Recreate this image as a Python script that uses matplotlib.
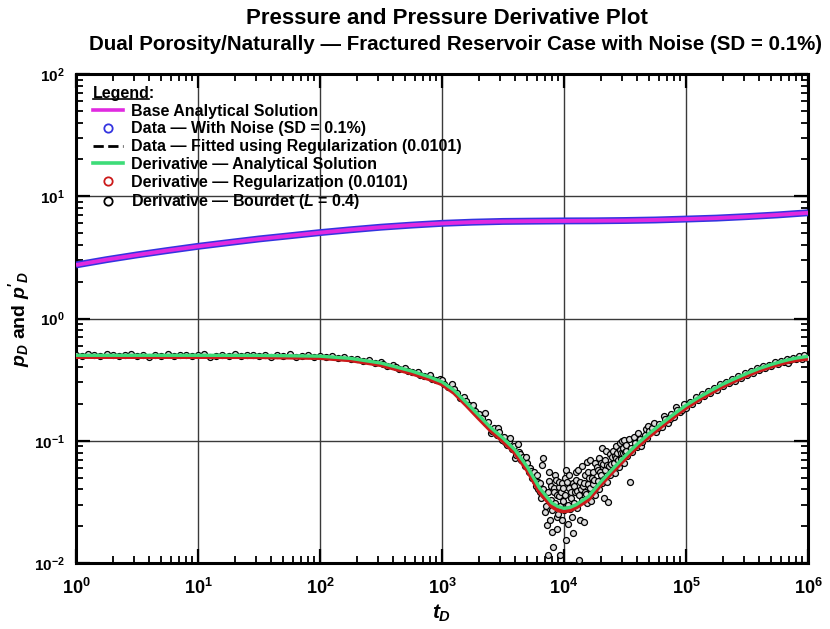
import numpy as np
import matplotlib
matplotlib.use("Agg")
import matplotlib.pyplot as plt
from matplotlib.lines import Line2D
from matplotlib.ticker import LogLocator, NullFormatter, FixedLocator, LogFormatterSciNotation

# ---------------- data ----------------
p_logt = [0.00, 0.25, 0.50, 0.75, 1.00, 1.25, 1.50, 1.75, 2.00, 2.25, 2.50, 2.75,
          3.00, 3.25, 3.50, 3.75, 4.00, 4.25, 4.50, 4.75, 5.00, 5.25, 5.50, 5.75, 6.00]
p_analytic = [2.74, 3.03, 3.31, 3.60, 3.89, 4.18, 4.47, 4.75, 5.04, 5.32, 5.58, 5.81,
              6.00, 6.14, 6.22, 6.26, 6.28, 6.30, 6.33, 6.40, 6.50, 6.63, 6.81, 7.04, 7.32]
p_noisy = [2.742, 3.028, 3.313, 3.597, 3.893, 4.176, 4.474, 4.748, 5.043, 5.317, 5.584, 5.806,
           6.004, 6.137, 6.224, 6.257, 6.284, 6.297, 6.334, 6.396, 6.506, 6.626, 6.815, 7.036, 7.325]
p_fit = [2.741, 3.030, 3.311, 3.599, 3.891, 4.179, 4.471, 4.749, 5.041, 5.319, 5.581, 5.808,
         6.002, 6.139, 6.221, 6.259, 6.281, 6.299, 6.331, 6.398, 6.502, 6.629, 6.812, 7.039, 7.322]

d_logt = [0.0, 0.5, 1.0, 1.5, 2.0, 2.25, 2.5, 2.75, 2.9, 3.0, 3.1, 3.2, 3.3, 3.4, 3.5, 3.6,
          3.7, 3.8, 3.9, 3.95, 4.0, 4.05, 4.1, 4.2, 4.3, 4.4, 4.5, 4.6, 4.7, 4.8, 4.9, 5.0,
          5.1, 5.2, 5.3, 5.4, 5.5, 5.6, 5.7, 5.8, 5.9, 6.0]
d_analytic = [0.500, 0.500, 0.500, 0.499, 0.492, 0.472, 0.432, 0.372, 0.332, 0.303, 0.258,
              0.205, 0.162, 0.128, 0.105, 0.084, 0.061, 0.041, 0.031, 0.029, 0.028, 0.0285,
              0.030, 0.035, 0.046, 0.059, 0.075, 0.094, 0.115, 0.138, 0.165, 0.195, 0.225,
              0.256, 0.290, 0.322, 0.356, 0.390, 0.421, 0.450, 0.474, 0.490]
d_regularized = [0.485, 0.485, 0.485, 0.484, 0.476, 0.456, 0.416, 0.356, 0.318, 0.290, 0.246,
                 0.195, 0.153, 0.121, 0.099, 0.079, 0.057, 0.038, 0.029, 0.027, 0.0265, 0.027,
                 0.0285, 0.033, 0.0435, 0.056, 0.071, 0.089, 0.109, 0.131, 0.157, 0.186, 0.215,
                 0.245, 0.278, 0.309, 0.342, 0.375, 0.405, 0.433, 0.456, 0.470]

bourdet_flat = [(0.00, 0.505), (0.05, 0.496), (0.10, 0.512), (0.15, 0.499), (0.20, 0.493),
                (0.25, 0.508), (0.30, 0.501), (0.35, 0.489), (0.40, 0.506), (0.45, 0.511),
                (0.50, 0.494), (0.55, 0.502), (0.60, 0.488), (0.65, 0.507), (0.70, 0.497),
                (0.75, 0.513), (0.80, 0.491), (0.85, 0.500), (0.90, 0.506), (0.95, 0.492),
                (1.00, 0.503), (1.05, 0.509), (1.10, 0.487), (1.15, 0.498), (1.20, 0.505),
                (1.25, 0.494), (1.30, 0.510), (1.35, 0.490), (1.40, 0.501), (1.45, 0.507),
                (1.50, 0.493), (1.55, 0.499), (1.60, 0.488), (1.65, 0.504), (1.70, 0.495),
                (1.75, 0.509), (1.80, 0.486), (1.85, 0.497), (1.90, 0.502), (1.95, 0.484),
                (2.00, 0.493)]
bourdet_fall = [(2.05, 0.480), (2.10, 0.492), (2.15, 0.471), (2.20, 0.483), (2.25, 0.462),
                (2.30, 0.470), (2.35, 0.448), (2.40, 0.458), (2.45, 0.432), (2.50, 0.437),
                (2.52, 0.428), (2.55, 0.412), (2.60, 0.415), (2.62, 0.398), (2.65, 0.386),
                (2.70, 0.392), (2.72, 0.371), (2.75, 0.362), (2.80, 0.366), (2.82, 0.347),
                (2.85, 0.336), (2.90, 0.342), (2.92, 0.321), (2.95, 0.313), (2.98, 0.320),
                (3.00, 0.312), (3.02, 0.292), (3.05, 0.276), (3.08, 0.290), (3.10, 0.266),
                (3.12, 0.244), (3.15, 0.225), (3.18, 0.230), (3.20, 0.212), (3.22, 0.197),
                (3.25, 0.181), (3.25, 0.195), (3.27, 0.175), (3.30, 0.164), (3.33, 0.153),
                (3.35, 0.170), (3.36, 0.139), (3.38, 0.143), (3.40, 0.115), (3.41, 0.121),
                (3.43, 0.128), (3.45, 0.112), (3.46, 0.126), (3.47, 0.118), (3.49, 0.101),
                (3.51, 0.108), (3.52, 0.097), (3.53, 0.093), (3.55, 0.099), (3.56, 0.105),
                (3.57, 0.086), (3.59, 0.091), (3.60, 0.072), (3.61, 0.077), (3.62, 0.094),
                (3.63, 0.081), (3.64, 0.078), (3.65, 0.069), (3.66, 0.074), (3.67, 0.068),
                (3.68, 0.062), (3.69, 0.073), (3.70, 0.066), (3.71, 0.055), (3.72, 0.060),
                (3.73, 0.057), (3.74, 0.050), (3.75, 0.055), (3.76, 0.047), (3.77, 0.043),
                (3.78, 0.052), (3.785, 0.040), (3.79, 0.046), (3.80, 0.038), (3.80, 0.045),
                (3.81, 0.034), (3.82, 0.063), (3.83, 0.072), (3.83, 0.040)]
bourdet_dip = [(3.84, 0.036), (3.845, 0.026), (3.85, 0.029), (3.86, 0.0206), (3.865, 0.038),
               (3.87, 0.0116), (3.875, 0.047), (3.88, 0.056), (3.885, 0.0226), (3.89, 0.033),
               (3.895, 0.043), (3.90, 0.027), (3.905, 0.018), (3.91, 0.0136), (3.915, 0.041),
               (3.92, 0.038), (3.925, 0.052), (3.93, 0.031), (3.935, 0.048), (3.94, 0.024),
               (3.94, 0.036), (3.945, 0.019), (3.95, 0.025), (3.955, 0.042), (3.96, 0.035),
               (3.96, 0.046), (3.965, 0.0116), (3.97, 0.029), (3.975, 0.038), (3.98, 0.0226),
               (3.985, 0.045), (3.99, 0.032), (3.995, 0.041), (4.00, 0.027), (4.005, 0.050),
               (4.01, 0.036), (4.015, 0.058), (4.02, 0.0155), (4.025, 0.046), (4.03, 0.030),
               (4.035, 0.021), (4.04, 0.041), (4.045, 0.052), (4.05, 0.0275), (4.055, 0.038),
               (4.06, 0.034), (4.065, 0.024), (4.07, 0.045), (4.075, 0.0176), (4.08, 0.031),
               (4.085, 0.043), (4.09, 0.038), (4.095, 0.055), (4.10, 0.048), (4.105, 0.039),
               (4.11, 0.028), (4.115, 0.058), (4.12, 0.036), (4.123, 0.0105), (4.13, 0.0226),
               (4.135, 0.046), (4.14, 0.040), (4.145, 0.062), (4.15, 0.033), (4.156, 0.043),
               (4.16, 0.0215), (4.165, 0.045), (4.17, 0.052), (4.175, 0.038), (4.18, 0.037),
               (4.186, 0.067), (4.19, 0.031), (4.195, 0.056), (4.20, 0.044), (4.205, 0.050)]
bourdet_rise = [(4.21, 0.041), (4.215, 0.070), (4.22, 0.032), (4.227, 0.050), (4.235, 0.056),
                (4.24, 0.044), (4.245, 0.048), (4.25, 0.036), (4.255, 0.066), (4.268, 0.061),
                (4.275, 0.058), (4.28, 0.047), (4.285, 0.072), (4.29, 0.040), (4.295, 0.055),
                (4.30, 0.052), (4.305, 0.066), (4.31, 0.045), (4.315, 0.087), (4.32, 0.064),
                (4.325, 0.034), (4.33, 0.049), (4.335, 0.070), (4.34, 0.058), (4.345, 0.082),
                (4.35, 0.046), (4.355, 0.063), (4.36, 0.0315), (4.37, 0.062), (4.375, 0.078),
                (4.38, 0.052), (4.385, 0.065), (4.39, 0.073), (4.40, 0.058), (4.405, 0.083),
                (4.41, 0.066), (4.415, 0.075), (4.42, 0.054), (4.425, 0.090), (4.43, 0.072),
                (4.435, 0.080), (4.44, 0.070), (4.45, 0.061), (4.455, 0.095), (4.46, 0.084),
                (4.465, 0.079), (4.47, 0.071), (4.475, 0.099), (4.48, 0.079), (4.485, 0.088),
                (4.49, 0.066), (4.495, 0.101), (4.50, 0.081), (4.505, 0.083), (4.51, 0.092),
                (4.52, 0.075), (4.53, 0.103), (4.54, 0.046), (4.55, 0.087), (4.56, 0.081),
                (4.57, 0.108), (4.58, 0.095), (4.60, 0.089), (4.61, 0.115), (4.62, 0.104),
                (4.63, 0.090), (4.64, 0.097), (4.66, 0.112), (4.67, 0.125), (4.68, 0.105),
                (4.69, 0.132), (4.70, 0.121), (4.72, 0.126), (4.74, 0.140), (4.75, 0.117),
                (4.77, 0.128), (4.78, 0.138), (4.80, 0.129), (4.82, 0.160), (4.83, 0.152),
                (4.85, 0.141), (4.87, 0.150), (4.88, 0.166), (4.90, 0.155), (4.92, 0.190),
                (4.93, 0.179), (4.95, 0.171), (4.97, 0.180), (4.98, 0.198), (5.00, 0.185),
                (5.03, 0.209), (5.05, 0.199), (5.08, 0.226), (5.10, 0.214), (5.13, 0.240),
                (5.15, 0.231), (5.18, 0.256), (5.20, 0.245), (5.23, 0.272), (5.25, 0.262),
                (5.28, 0.291), (5.30, 0.278), (5.33, 0.305), (5.35, 0.296), (5.38, 0.322),
                (5.40, 0.309), (5.43, 0.338), (5.45, 0.327), (5.48, 0.356), (5.50, 0.342),
                (5.53, 0.372), (5.55, 0.360), (5.58, 0.390), (5.60, 0.376), (5.63, 0.405),
                (5.65, 0.393), (5.68, 0.420), (5.70, 0.408), (5.73, 0.440), (5.75, 0.425),
                (5.78, 0.452), (5.80, 0.438), (5.83, 0.467), (5.84, 0.430), (5.85, 0.455),
                (5.88, 0.479), (5.90, 0.462), (5.93, 0.495), (5.95, 0.470), (5.97, 0.503),
                (6.00, 0.478)]

x_ticks = [1e0, 1e1, 1e2, 1e3, 1e4, 1e5, 1e6]
y_ticks = [1e-2, 1e-1, 1e0, 1e1, 1e2]

legend_labels = ["Base Analytical Solution",
                 "Data \u2014 With Noise (SD = 0.1%)",
                 "Data \u2014 Fitted using Regularization (0.0101)",
                 "Derivative \u2014 Analytical Solution",
                 "Derivative \u2014 Regularization (0.0101)",
                 "Derivative \u2014 Bourdet ($L$ = 0.4)"]

# ---------------- style ----------------
plt.rcParams['font.family'] = ['Liberation Sans', 'DejaVu Sans']
plt.rcParams['font.weight'] = 'bold'
plt.rcParams['axes.labelweight'] = 'bold'
plt.rcParams['mathtext.fontset'] = 'custom'
plt.rcParams['mathtext.rm'] = 'Liberation Sans:bold'
plt.rcParams['mathtext.it'] = 'Liberation Sans:italic:bold'
plt.rcParams['mathtext.bf'] = 'Liberation Sans:bold'

MAGENTA = '#e02ae0'
BLUE = '#3434e0'
GREEN = '#3ddc78'
RED = '#cc1a1a'

W, H = 830, 629
fig = plt.figure(figsize=(W / 100, H / 100), dpi=100)
L, R, T, B = 76, 808, 74, 563
ax = fig.add_axes([L / W, 1 - B / H, (R - L) / W, (B - T) / H])

pt = 10 ** np.array(p_logt)
dt = 10 ** np.array(d_logt)

# pressure
ax.plot(pt, p_noisy, color=BLUE, lw=5.0, solid_capstyle='butt', zorder=3)
ax.plot(pt, p_fit, color='k', lw=1.5, ls='--', zorder=3.5)
ax.plot(pt, p_analytic, color=MAGENTA, lw=2.8, solid_capstyle='butt', zorder=4)

# derivatives
bourdet = bourdet_flat + bourdet_fall + bourdet_dip + bourdet_rise
bt = 10 ** np.array([p[0] for p in bourdet])
bv = np.array([p[1] for p in bourdet])
ax.plot(bt, bv, ls='none', marker='o', ms=4.3, mfc='#dcdcdc', mec='k', mew=0.9, zorder=3)
ax.plot(dt, d_regularized, color=RED, lw=3.0, zorder=4)
ax.plot(dt, d_analytic, color=GREEN, lw=2.4, zorder=5)

ax.set_xscale('log')
ax.set_yscale('log')
ax.set_xlim(1, 1e6)
ax.set_ylim(1e-2, 1e2)
ax.xaxis.set_major_locator(FixedLocator(x_ticks))
ax.yaxis.set_major_locator(FixedLocator(y_ticks))
ax.xaxis.set_major_formatter(LogFormatterSciNotation())
ax.yaxis.set_major_formatter(LogFormatterSciNotation())
ax.xaxis.set_minor_locator(LogLocator(base=10, subs=np.arange(2, 10), numticks=100))
ax.yaxis.set_minor_locator(LogLocator(base=10, subs=np.arange(2, 10), numticks=100))
ax.xaxis.set_minor_formatter(NullFormatter())
ax.yaxis.set_minor_formatter(NullFormatter())

ax.grid(True, which='major', color='#3a3a3a', lw=1.0)
ax.set_axisbelow(True)
for s in ax.spines.values():
    s.set_linewidth(2.2)
ax.tick_params(which='both', direction='in', top=True, right=True)
ax.tick_params(which='major', length=10, width=1.6)
ax.tick_params(which='minor', length=5, width=1.3)
ax.tick_params(axis='x', which='major', labelsize=13, pad=11)
ax.tick_params(axis='y', which='major', labelsize=11, pad=8)

ax.set_xlabel(r'$t_D$', fontsize=15)
ax.xaxis.set_label_coords(0.5, (B - 603) / (B - T))
ax.set_ylabel(r"$p_D$ and $p'_D$", fontsize=14, fontweight='bold')
ax.yaxis.set_label_coords((32 - L) / (R - L), 0.5)

fig.text(447 / W, 1 - 19 / H, 'Pressure and Pressure Derivative Plot', ha='center',
         va='center', fontsize=16, weight='bold')
fig.text(455 / W, 1 - 44 / H,
         'Dual Porosity/Naturally \u2014 Fractured Reservoir Case with Noise (SD = 0.1%)',
         ha='center', va='center', fontsize=14.8, weight='bold')

handles = [Line2D([], [], color=MAGENTA, lw=2.6),
           Line2D([], [], ls='none', marker='o', ms=6, mfc='none', mec=BLUE, mew=1.3),
           Line2D([], [], color='k', lw=2.0, ls='--'),
           Line2D([], [], color=GREEN, lw=2.6),
           Line2D([], [], ls='none', marker='o', ms=6, mfc='none', mec=RED, mew=1.3),
           Line2D([], [], ls='none', marker='o', ms=6, mfc='none', mec='k', mew=1.3)]
leg = ax.legend(handles, legend_labels, loc='upper left',
                bbox_to_anchor=((93 - L) / (R - L), 1 - (86 - T) / (B - T)),
                frameon=False, title='Legend:', alignment='left', fontsize=11.5,
                title_fontsize=11.5, handlelength=1.9, handletextpad=0.5,
                labelspacing=0.17, borderaxespad=0, borderpad=0)
leg.set_zorder(10)

fig.canvas.draw()
tb = leg.get_title().get_window_extent(fig.canvas.get_renderer())
fig.add_artist(Line2D([tb.x0 / W, (tb.x0 + tb.width * 0.9) / W],
                      [(tb.y0 + 2.5) / H, (tb.y0 + 2.5) / H],
                      transform=fig.transFigure, color='k', lw=1.2))

fig.savefig('out.png', dpi=100)
